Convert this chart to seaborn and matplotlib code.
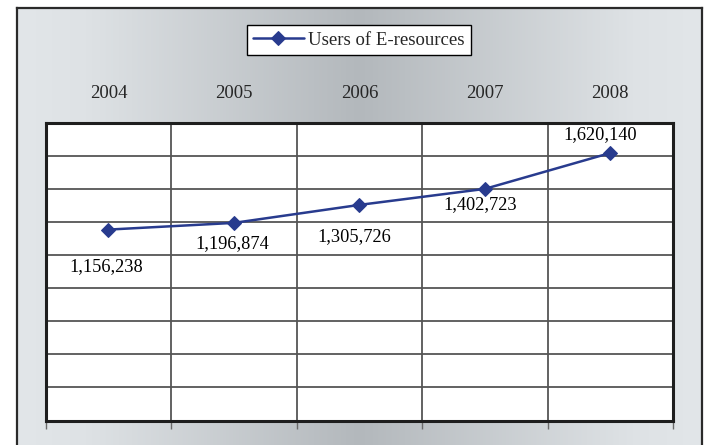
# users of e-resources line chart

import numpy as np
import pandas as pd
import matplotlib
matplotlib.use('Agg')
import matplotlib.pyplot as plt
from matplotlib.colors import LinearSegmentedColormap
import seaborn as sns

# dados
years = ['2004', '2005', '2006', '2007', '2008']
users = [1156238, 1196874, 1305726, 1402723, 1620140]
series_name = 'Users of E-resources'

df = pd.DataFrame({'year': years, 'users': users})

sns.set_style('white')
plt.rcParams['font.family'] = ['Liberation Serif', 'DejaVu Serif']

line_color = '#283B8E'

fig = plt.figure(figsize=(7.05, 4.45), dpi=100)
W, H = 705, 445

# fundo com gradiente horizontal
bg = fig.add_axes([17 / W, 0, (702 - 17) / W, 1 - 7.5 / H], zorder=0)
cmap = LinearSegmentedColormap.from_list(
    'bg', [(0, '#E2E6E9'), (0.1, '#DEE2E5'), (0.5, '#B3B8BC'),
           (0.9, '#DEE2E5'), (1, '#E2E6E9')])
bg.imshow(np.linspace(0, 1, 512)[None, :], aspect='auto', cmap=cmap,
          extent=[0, 1, 0, 1])
bg.set_xticks([])
bg.set_yticks([])
for side, sp in bg.spines.items():
    sp.set_color('#2a2a2a')
    sp.set_linewidth(1.6)
bg.spines['bottom'].set_visible(False)

# area do grafico
ax = fig.add_axes([45.7 / W, 1 - 420.5 / H, (673 - 45.7) / W, (420.5 - 123.3) / H],
                  zorder=1)
ax.set_facecolor('white')

sns.lineplot(x='year', y='users', data=df, ax=ax, color=line_color,
             marker='D', markersize=7.5, markeredgecolor=line_color,
             linewidth=1.8, label=series_name)

ax.set_xlim(-0.5, 4.5)
ax.set_ylim(0, 1800000)
ax.set_yticks(np.arange(0, 1800001, 200000))
ax.set_yticklabels([])
ax.tick_params(axis='y', length=0)

# rotulos dos anos no topo
ax.set_xticks(range(len(years)))
ax.set_xticklabels(years)
ax.xaxis.set_ticks_position('top')
ax.tick_params(axis='x', which='major', length=0, pad=15, labelsize=13.5,
               labeltop=True, labelbottom=False)
ax.set_xticks(np.arange(-0.5, 4.6, 1), minor=True)
ax.tick_params(axis='x', which='minor', bottom=True, top=False, length=6,
               width=1, color='#6a6a6a', direction='out')
ax.set_xlabel('')
ax.set_ylabel('')

ax.grid(True, axis='y', which='major', color='#555555', linewidth=1.3)
ax.grid(True, axis='x', which='minor', color='#555555', linewidth=1.3)
ax.grid(False, axis='x', which='major')
ax.set_axisbelow(True)
for sp in ax.spines.values():
    sp.set_color('#1e1e1e')
    sp.set_linewidth(2.2)

# rotulos de valores
offsets = [(-1.7, -27), (-1.2, -14.8), (-3.6, -22.8), (-3.2, -11), (-7.2, 13.4)]
for i, (v, off) in enumerate(zip(users, offsets)):
    ax.annotate(f'{v:,}', (i, v), xytext=off, textcoords='offset points',
                ha='center', va='center', fontsize=13.2, color='black')

# legenda
ax.legend(loc='center', bbox_to_anchor=(359 / W, 1 - 40 / H),
          bbox_transform=fig.transFigure, fontsize=13.5, frameon=True,
          fancybox=False, edgecolor='black', framealpha=1,
          handlelength=2.7, handletextpad=0.25, borderpad=0.35,
          borderaxespad=0)
ax.get_legend().get_frame().set_linewidth(1)

plt.savefig('out.png', dpi=100)
